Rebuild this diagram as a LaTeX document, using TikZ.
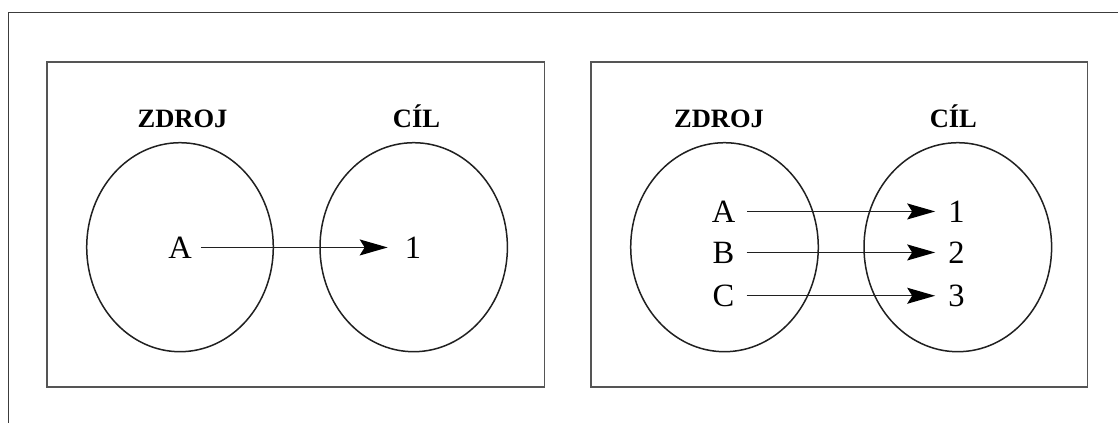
\documentclass[tikz,border=0pt]{standalone}
\usepackage{fontspec}
\setmainfont{Liberation Serif}
\usetikzlibrary{arrows.meta}
\definecolor{framegray}{HTML}{3C3C3C}
\definecolor{boxgray}{HTML}{555555}
\definecolor{inkgray}{HTML}{202020}
\tikzset{
  outerframe/.style={draw=framegray, line width=1.2pt},
  panelbox/.style={draw=boxgray, line width=1.6pt},
  setshape/.style={draw=inkgray, line width=1.5pt},
  heading/.style={font=\fontsize{26.5}{30}\selectfont\bfseries, inner sep=0pt, anchor=base},
  elem/.style={font=\fontsize{32.5}{36}\selectfont, inner sep=0pt, anchor=base, text height=21.5pt, text depth=0pt},
  mapto/.style 2 args={draw=inkgray, line width=1.4pt, shorten <=#1, shorten >=#2,
    -{Stealth[length=28pt, width=16pt, inset=5pt, color=black]}}
}
\begin{document}
\begin{tikzpicture}[x=1pt,y=-1pt]
\useasboundingbox (0,0) rectangle (1118,423);
% outer frame (only top and left edges visible)
\draw[outerframe] (1118,12.5) -- (8.5,12.5) -- (8.5,423);
% panels
\draw[panelbox] (47,62) rectangle (544.3,387);
\draw[panelbox] (590.7,62) rectangle (1087.3,387);
% ---------- left panel ----------
\draw[setshape] (180,247.2) ellipse [x radius=93.3, y radius=104.5];
\draw[setshape] (413.7,247.2) ellipse [x radius=93.7, y radius=104.5];
\node[heading] (zdrojL) at (182.5,127.3) {ZDROJ};
\node[heading] (cilL) at (416.5,127.5) {CÍL};
\node[elem] (aL) at (180,258.2) {A};
\node[elem] (oneL) at (413,258.2) {1};
\draw[mapto={9pt}{17pt}] (aL.east) -- (oneL.west);
% ---------- right panel ----------
\draw[setshape] (724.5,247.2) ellipse [x radius=93.8, y radius=104.5];
\draw[setshape] (957.8,247.2) ellipse [x radius=93.8, y radius=104.5];
\node[heading] (zdrojR) at (719,127.3) {ZDROJ};
\node[heading] (cilR) at (953.3,127.5) {CÍL};
\node[elem] (aR) at (723.5,222.2) {A};
\node[elem] (bR) at (723.5,263.2) {B};
\node[elem] (cR) at (723.5,306.5) {C};
\node[elem] (oneR) at (956.5,222.2) {1};
\node[elem] (twoR) at (956.5,263.2) {2};
\node[elem] (threeR) at (956.5,306.5) {3};
\draw[mapto={12pt}{13pt}] (aR.east) -- (oneR.west);
\draw[mapto={12pt}{13pt}] (bR.east) -- (twoR.west);
\draw[mapto={12pt}{13pt}] (cR.east) -- (threeR.west);
\end{tikzpicture}
\end{document}
